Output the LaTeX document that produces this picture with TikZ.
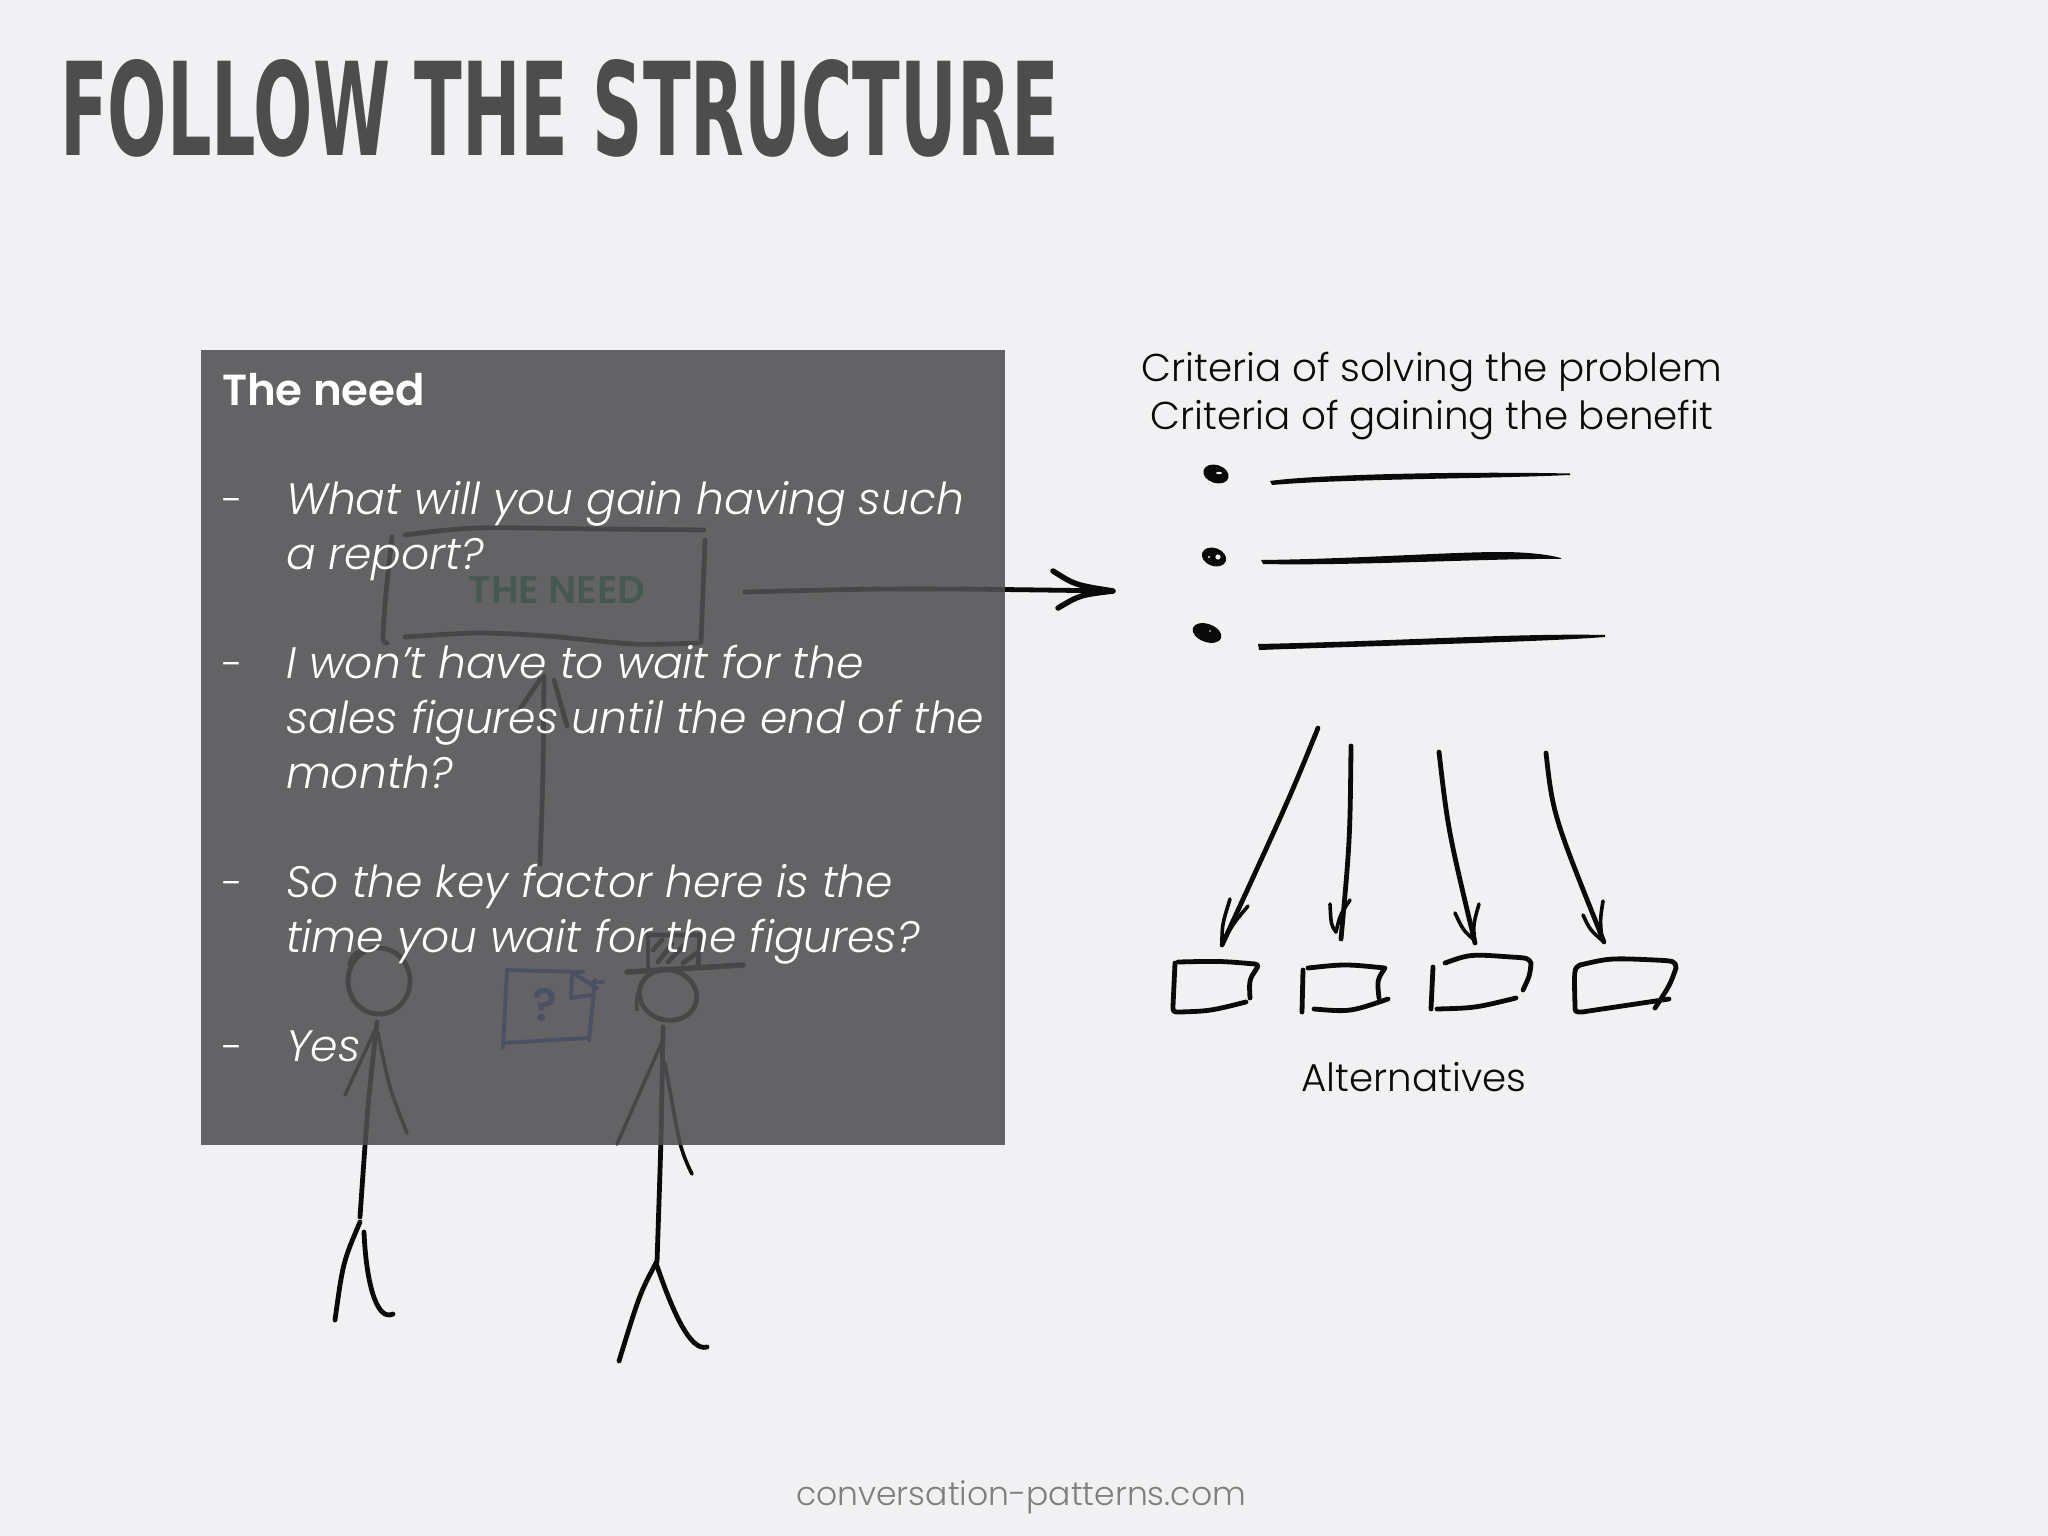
\documentclass[tikz,border=0pt]{standalone}
\usepackage{fontspec}
\usepackage{graphicx}
\usetikzlibrary{calc}
\setmainfont{Poppins Light}[ItalicFont={Poppins Light Italic},BoldFont={Poppins SemiBold}]
\newfontfamily\titlef{DejaVu Sans Bold}
\definecolor{paper}{HTML}{F1F0F2}
\definecolor{veil}{HTML}{505052}
\definecolor{titlegrey}{HTML}{4D4D4D}
\definecolor{footgrey}{HTML}{7F7F7F}
\definecolor{inkc}{HTML}{0A0A0A}
\definecolor{needgreen}{HTML}{00A050}
\definecolor{docblue}{HTML}{3050E0}
\tikzset{
  ink/.style={draw=inkc,line width=4.8pt,line cap=round,line join=round},
  thin ink/.style={draw=inkc,line width=3.6pt,line cap=round,line join=round},
  docink/.style={draw=docblue,line width=4pt,line cap=round,line join=round},
  txt/.style={anchor=base west,inner sep=0pt,outer sep=0pt},
  ctxt/.style={anchor=base,inner sep=0pt,outer sep=0pt},
  body/.style={txt,text=white,font=\fontsize{44}{50}\selectfont\itshape},
  label/.style={ctxt,text=inkc,font=\fontsize{38.8}{48}\selectfont},
  taper/.style={fill=inkc,draw=none},
}
\begin{document}
\begin{tikzpicture}[x=1pt,y=-1pt]
\useasboundingbox (0,0) rectangle (2048,1536);
\fill[paper] (0,0) rectangle (2048,1536);

% title
\node[txt,text=titlegrey] (title) at (60,155) {\resizebox{999pt}{96pt}{\titlef FOLLOW THE STRUCTURE}};

% --- sketch under the veil ---
% need box
\node[ctxt,text=needgreen,font=\fontsize{38.5}{40}\selectfont\bfseries] (need) at (557,603) {THE NEED};
\draw[ink] plot[smooth] coordinates {(405,535) (476,528) (600,529) (704,530)};
\draw[ink] plot[smooth] coordinates {(392,537) (386,593) (383,637) (387,643)};
\draw[ink] (705,540) -- (701,642);
\draw[ink] plot[smooth] coordinates {(405,637) (476,633) (547,636) (633,644) (699,643)};

% arrow out of the need box
\coordinate (needout) at (745,592);
\coordinate (crit) at (1113,591);
\draw[ink] (needout) .. controls (900,588) .. (crit);
\draw[ink,line width=5.5pt] (1053,571) .. controls (1075,585) .. (crit) .. controls (1080,595) .. (1058,608);

% arrow up to the need box
\coordinate (upfoot) at (540,864);
\coordinate (uptip) at (544,676);
\draw[ink] (upfoot) .. controls (543,780) .. (uptip);
\draw[ink] (520,709) -- (541,678);
\draw[ink] (554,680) -- (567,726);

% person 1
\draw[ink] (379,981) ellipse [x radius=31pt,y radius=33pt];
\draw[thin ink] (349,965) .. controls (352,955) .. (362,950);
\draw[ink] plot[smooth] coordinates {(377,1022) (368,1107) (360,1217)};
\draw[thin ink] (375,1030) -- (345,1095);
\draw[thin ink] plot[smooth] coordinates {(378,1033) (390,1087) (407,1133)};
\draw[ink] (360,1222) .. controls (343,1262) .. (335,1320);
\draw[ink] (364,1232) .. controls (366,1280) and (376,1322) .. (393,1314);

% document
\draw[docink] (507,970) -- (503,1047);
\draw[docink] (507,970) -- (583,972);
\draw[docink] (572,972) -- (571,998) -- (590,995);
\draw[docink] (573,973) -- (597,988);
\draw[docink] (595,980) -- (589,1040);
\draw[docink] (503,1043) -- (588,1038);
\draw[docink] (593,982) -- (603,982);
\node[ctxt,text=docblue,font=\fontsize{46}{50}\selectfont\bfseries] (qm) at (545,1021) {?};

% person 2
\draw[ink,rotate around={-15:(668,995)}] (668,995) ellipse [x radius=29pt,y radius=25pt];
\draw[thin ink] (637,1010) .. controls (636,998) .. (641,986);
\draw[ink,line width=5.5pt] (627,972) -- (743,965);
\draw[ink] (648,935) -- (648,967);
\draw[ink] (648,935) -- (700,935) -- (698,967);
\draw[ink] (653,950) -- (662,940);
\draw[ink] (658,962) -- (672,944);
\draw[ink] (668,962) -- (684,945);
\draw[ink] (683,963) -- (697,953);
\draw[ink] plot[smooth] coordinates {(663,1027) (661,1137) (657,1262)};
\draw[thin ink] (662,1042) -- (617,1144);
\draw[thin ink] plot[smooth] coordinates {(665,1063) (680,1143) (692,1174)};
\draw[ink] (656,1263) .. controls (640,1293) .. (619,1361);
\draw[ink] (656,1263) .. controls (672,1310) and (690,1352) .. (707,1347);

% --- veil ---
\fill[veil,fill opacity=.88] (201,350) rectangle (1005,1145);

% panel text
\node[txt,text=white,font=\fontsize{43.5}{50}\selectfont\bfseries] (h) at (222,405) {The need};
\foreach \n/\yy in {d1/514,d2/678,d3/897,d4/1061}{
  \node[txt,text=white,font=\fontsize{40}{50}\selectfont] (\n) at (222,\yy) {-};
}
\node[body] (t1) at (286,514) {What will you gain having such};
\node[body] (t2) at (286,569) {a report?};
\node[body] (t3) at (286,678) {I won’t have to wait for the};
\node[body] (t4) at (286,733) {sales figures until the end of the};
\node[body] (t5) at (286,788) {month?};
\node[body] (t6) at (286,897) {So the key factor here is the};
\node[body] (t7) at (286,952) {time you wait for the figures?};
\node[body] (t8) at (286,1061) {Yes};

% right side
\node[label] (c1) at (1432,381) {Criteria of solving the problem};
\node[label] (c2) at (1432,429) {Criteria of gaining the benefit};

\fill[inkc,rotate around={-18:(1216,474)}] (1216,474) ellipse [x radius=13pt,y radius=9pt];
\fill[inkc,rotate around={-20:(1214,557)}] (1214,557) ellipse [x radius=12.5pt,y radius=9pt];
\fill[inkc,rotate around={-20:(1207,633)}] (1207,633) ellipse [x radius=15pt,y radius=9pt];
\fill[paper] (1219,473) ellipse [x radius=3pt,y radius=1.2pt];
\fill[paper] (1218,557) circle [radius=2.6pt];
\fill[paper] (1209,557) circle [radius=1.2pt];
\fill[paper] (1210,631) circle [radius=.8pt];

\fill[taper] (1270,481) .. controls (1310,475) and (1450,471) .. (1570,473.5) -- (1570,475) .. controls (1480,479) and (1340,479) .. (1272,485) -- cycle;
\fill[taper] (1261,560) .. controls (1352,559) and (1450,552) .. (1500,552) .. controls (1530,552) and (1550,555) .. (1561,558) -- (1561,559) .. controls (1500,558) and (1352,566) .. (1263,564) -- cycle;
\fill[taper] (1258,644) .. controls (1400,641) and (1520,633) .. (1605,635) -- (1605,637) .. controls (1540,642) and (1400,645) .. (1259,650) -- cycle;

% arrows to the alternatives
\coordinate (a1s) at (1318,728); \coordinate (a1t) at (1222,945);
\coordinate (a2s) at (1351,746); \coordinate (a2t) at (1341,939);
\coordinate (a3s) at (1439,752); \coordinate (a3t) at (1475,943);
\coordinate (a4s) at (1546,753); \coordinate (a4t) at (1604,942);
\draw[ink] (a1s) .. controls (1290,797) .. (a1t);
\draw[thin ink] (1230,899) .. controls (1222,925) .. (a1t);
\draw[thin ink] (1248,906) .. controls (1232,925) .. (a1t);
\draw[ink] (a2s) .. controls (1350,840) .. (a2t);
\draw[thin ink] (1330,904) .. controls (1331,925) .. (1336,932);
\draw[thin ink] (1350,900) .. controls (1340,915) .. (1336,932);
\draw[ink] (a3s) .. controls (1448,830) .. (a3t);
\draw[thin ink] (1455,913) .. controls (1463,930) .. (1473,939);
\draw[thin ink] (1479,904) .. controls (1473,925) .. (a3t);
\draw[ink] (a4s) .. controls (1553,815) .. (a4t);
\draw[thin ink] (1583,915) .. controls (1590,930) .. (a4t);
\draw[thin ink] (1603,901) .. controls (1600,920) .. (1602,940);

% alternatives
\draw[ink] (1175,963) -- (1173,1006) .. controls (1173,1012) .. (1180,1012) .. controls (1210,1011) .. (1246,1002);
\draw[ink] (1178,962) .. controls (1220,961) .. (1255,964) .. controls (1258,965) .. (1257,968) .. controls (1249,980) .. (1250,998);

\draw[ink] (1303,970) -- (1302,1012);
\draw[ink] (1314,1009) .. controls (1350,1012) .. (1388,999);
\draw[ink] (1308,968) .. controls (1345,964) .. (1385,968) .. controls (1377,980) .. (1379,998);

\draw[ink] (1433,967) -- (1431,1009);
\draw[ink] (1437,1009) .. controls (1475,1008) .. (1516,998);
\draw[ink] (1445,963) .. controls (1470,954) .. (1511,957) .. controls (1528,958) .. (1531,963) .. controls (1530,975) .. (1523,990);

\draw[ink] (1580,965) .. controls (1574,968) .. (1575,1006) .. controls (1575,1012) .. (1582,1012) -- (1669,999);
\draw[ink] (1580,965) .. controls (1610,958) .. (1655,960) .. controls (1675,961) .. (1676,968) .. controls (1670,985) .. (1655,1008);

\node[label] (alt) at (1414,1091) {Alternatives};
\node[ctxt,text=footgrey,font=\fontsize{33}{40}\selectfont] (foot) at (1021,1505) {conversation-patterns.com};
\end{tikzpicture}
\end{document}
